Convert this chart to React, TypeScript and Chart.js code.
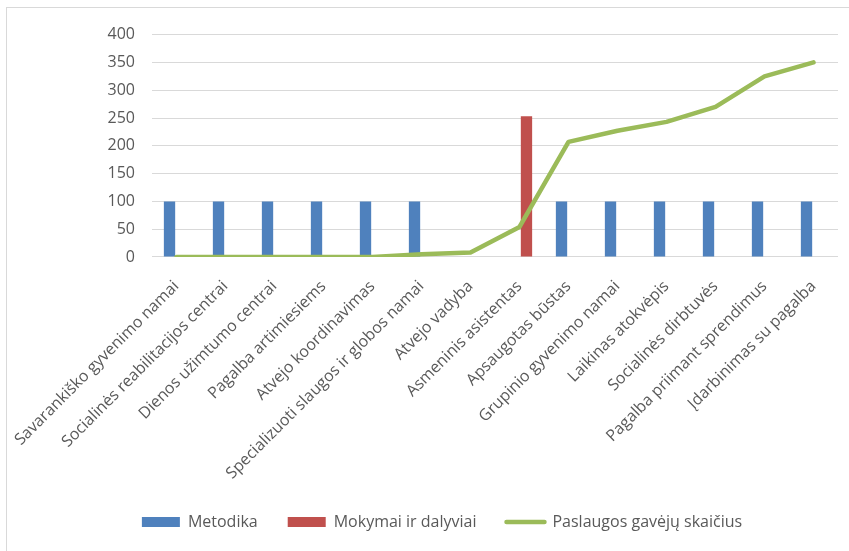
import React, { useEffect, useRef } from "react";
import { Chart, registerables } from "chart.js";

Chart.register(...registerables);

const categories: string[] = [
  "Savarankiško gyvenimo namai",
  "Socialinės reabilitacijos centrai",
  "Dienos užimtumo centrai",
  "Pagalba artimiesiems",
  "Atvejo koordinavimas",
  "Specializuoti slaugos ir globos namai",
  "Atvejo vadyba",
  "Asmeninis asistentas",
  "Apsaugotas būstas",
  "Grupinio gyvenimo namai",
  "Laikinas atokvėpis",
  "Socialinės dirbtuvės",
  "Pagalba priimant sprendimus",
  "Įdarbinimas su pagalba",
];

const metodika: (number | null)[] = [100, 100, 100, 100, 100, 100, null, null, 100, 100, 100, 100, 100, 100];
const mokymai: (number | null)[] = [null, null, null, null, null, null, null, 253, null, null, null, null, null, null];
const paslaugos: number[] = [0, 0, 0, 0, 0, 5, 8, 54, 207, 227, 243, 270, 325, 350];

const seriesNames = ["Metodika", "Mokymai ir dalyviai", "Paslaugos gavėjų skaičius"];
const yMin = 0;
const yMax = 400;
const yStep = 50;

const BLUE = "#4f81bd";
const RED = "#c0504d";
const GREEN = "#9bbb59";
const TEXT = "#595959";
const GRID = "#d9d9d9";

export default function App() {
  const ref = useRef<HTMLCanvasElement | null>(null);

  useEffect(() => {
    if (!ref.current) return;
    Chart.defaults.font.family = "'Open Sans', sans-serif";
    const chart = new Chart(ref.current, {
      data: {
        labels: categories,
        datasets: [
          {
            type: "bar",
            label: seriesNames[0],
            data: metodika,
            backgroundColor: BLUE,
            borderWidth: 0,
            categoryPercentage: 0.57,
            barPercentage: 0.81,
            order: 1,
          },
          {
            type: "bar",
            label: seriesNames[1],
            data: mokymai,
            backgroundColor: RED,
            borderWidth: 0,
            categoryPercentage: 0.57,
            barPercentage: 0.81,
            order: 1,
          },
          {
            type: "line",
            label: seriesNames[2],
            data: paslaugos,
            borderColor: GREEN,
            backgroundColor: GREEN,
            borderWidth: 4.5,
            borderCapStyle: "round",
            borderJoinStyle: "round",
            pointRadius: 0,
            pointHoverRadius: 0,
            tension: 0,
            fill: false,
            order: 0,
          },
        ],
      } as any,
      options: {
        animation: false,
        responsive: true,
        maintainAspectRatio: false,
        layout: { padding: { left: 39, right: 29, top: 19, bottom: 28 } },
        plugins: {
          tooltip: { enabled: false },
          legend: {
            position: "bottom",
            labels: {
              color: TEXT,
              font: { size: 16 },
              usePointStyle: true,
              pointStyleWidth: 38,
              boxHeight: 10,
              padding: 30,
              sort: (a: any, b: any) => a.datasetIndex - b.datasetIndex,
              generateLabels: (c: any) => {
                const items = (Chart.defaults.plugins.legend.labels as any).generateLabels(c);
                return items.map((it: any) => {
                  if (it.datasetIndex === 2) {
                    return { ...it, pointStyle: "line", lineWidth: 4.5, strokeStyle: GREEN, fillStyle: GREEN, lineCap: "round" };
                  }
                  return { ...it, pointStyle: "rect", lineWidth: 0 };
                });
              },
            },
          },
        },
        scales: {
          x: {
            grid: { display: false },
            border: { display: false },
            ticks: {
              autoSkip: false,
              minRotation: 45,
              maxRotation: 45,
              color: TEXT,
              font: { size: 16 },
              padding: 12,
            },
            afterFit: (s: any) => {
              s.height = 227;
              s.paddingLeft = 0;
              s.paddingRight = 0;
            },
          },
          y: {
            min: yMin,
            max: yMax,
            ticks: { stepSize: yStep, color: TEXT, font: { size: 16 }, padding: 17 },
            grid: { color: GRID, drawTicks: false, lineWidth: 1 },
            border: { display: false },
            afterFit: (s: any) => {
              s.width = 106;
            },
          },
        },
      } as any,
    });
    return () => chart.destroy();
  }, []);

  return (
    <div style={{ position: "absolute", left: 0, top: 0, width: 849, height: 551, overflow: "hidden", background: "#fff" }}>
      <div
        style={{
          position: "absolute",
          left: 6,
          top: 7,
          width: 860,
          height: 560,
          border: `1px solid ${GRID}`,
        }}
      >
        <div style={{ position: "relative", width: 860, height: 560 }}>
          <canvas ref={ref} />
        </div>
      </div>
    </div>
  );
}
